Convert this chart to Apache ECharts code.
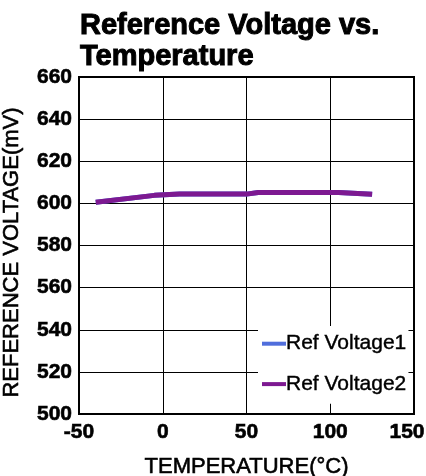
<!DOCTYPE html>
<html>
<head>
<meta charset="utf-8">
<script src="https://cdn.jsdelivr.net/npm/echarts@6/dist/echarts.min.js"></script>
<style>
  html, body { margin: 0; padding: 0; background: #fff; }
  #chart { width: 426px; height: 476px; }
</style>
</head>
<body>
<div id="chart"></div>
<script>
// values
const temps = [-40, -5, 10, 50, 57, 105, 125];
const refVoltage1 = [600.5, 603.8, 604.4, 604.4, 605.2, 605.2, 604.3];
const refVoltage2 = [600.5, 603.8, 604.4, 604.4, 605.2, 605.2, 604.3];
const seriesNames = ["Ref Voltage1", "Ref Voltage2"];
const xMax = 150;

const pairs = (xs, ys) => xs.map((x, i) => [x, ys[i]]);
const font = "Liberation Sans, Arial, sans-serif";
// the source figure uses a heavy face, a thin outline fattens the glyphs
const heavy = {textBorderColor: "#000", textBorderWidth: 0.6};

let chart = echarts.init(document.getElementById("chart"));
let option = {
    animation: false,
    title: {
        text: "Reference Voltage vs.\nTemperature",
        left: 80,
        top: 10,
        padding: 0,
        textStyle: {
            fontFamily: font,
            fontSize: 29,
            fontWeight: "bold",
            color: "#000",
            lineHeight: 31,
            textBorderColor: "#000",
            textBorderWidth: 1
        }
    },
    grid: {
        left: 79,
        right: 12,
        top: 77,
        bottom: 62,
        outerBoundsMode: "none",
        show: true,
        borderColor: "#000",
        borderWidth: 2
    },
    legend: {
        data: seriesNames,
        orient: "vertical",
        left: 258,
        top: 326,
        width: 154,
        padding: [7, 2, 9, 4],
        itemGap: 19,
        itemWidth: 24,
        itemHeight: 4,
        icon: "rect",
        backgroundColor: "#fff",
        textStyle: {
            fontFamily: font,
            fontSize: 21,
            color: "#000",
            padding: [0, 0, 0, -5],
            textBorderColor: "#000",
            textBorderWidth: 0.4
        }
    },
    xAxis: {
        type: "value",
        min: -50,
        max: xMax,
        interval: 50,
        name: "TEMPERATURE(°C)",
        nameLocation: "middle",
        nameGap: 42,
        nameMoveOverlap: false,
        nameTextStyle: Object.assign({fontFamily: font, fontSize: 22, color: "#000"}, heavy),
        axisLine: {onZero: false, lineStyle: {color: "#000", width: 2}},
        axisTick: {show: false},
        axisLabel: Object.assign({
            fontFamily: font, fontSize: 21, fontWeight: "bold", color: "#000", margin: 8,
            // last label sits a little inside the frame edge
            formatter: (v) => v === xMax ? `{last|${v}}` : `${v}`,
            rich: {
                last: Object.assign({fontFamily: font, fontSize: 21, fontWeight: "bold", color: "#000", padding: [0, 14, 0, 0]}, heavy)
            }
        }, heavy),
        splitLine: {lineStyle: {color: "#000", width: 1}}
    },
    yAxis: {
        type: "value",
        min: 500,
        max: 660,
        interval: 20,
        name: "REFERENCE VOLTAGE(mV)",
        nameLocation: "middle",
        nameGap: 56,
        nameMoveOverlap: false,
        nameTextStyle: Object.assign({fontFamily: font, fontSize: 22, color: "#000", padding: [0, 14, 0, 0]}, heavy),
        axisLine: {show: true, onZero: false, lineStyle: {color: "#000", width: 2}},
        axisTick: {show: false},
        axisLabel: Object.assign({fontFamily: font, fontSize: 21, fontWeight: "bold", color: "#000", margin: 7}, heavy),
        splitLine: {lineStyle: {color: "#000", width: 1}}
    },
    series: [{
        name: seriesNames[0],
        type: "line",
        data: pairs(temps, refVoltage1),
        showSymbol: false,
        lineStyle: {color: "#506edc", width: 5},
        itemStyle: {color: "#506edc"}
    }, {
        name: seriesNames[1],
        type: "line",
        data: pairs(temps, refVoltage2),
        showSymbol: false,
        lineStyle: {color: "#7d1991", width: 5},
        itemStyle: {color: "#7d1991"}
    }]
};
chart.setOption(option);
</script>
</body>
</html>
